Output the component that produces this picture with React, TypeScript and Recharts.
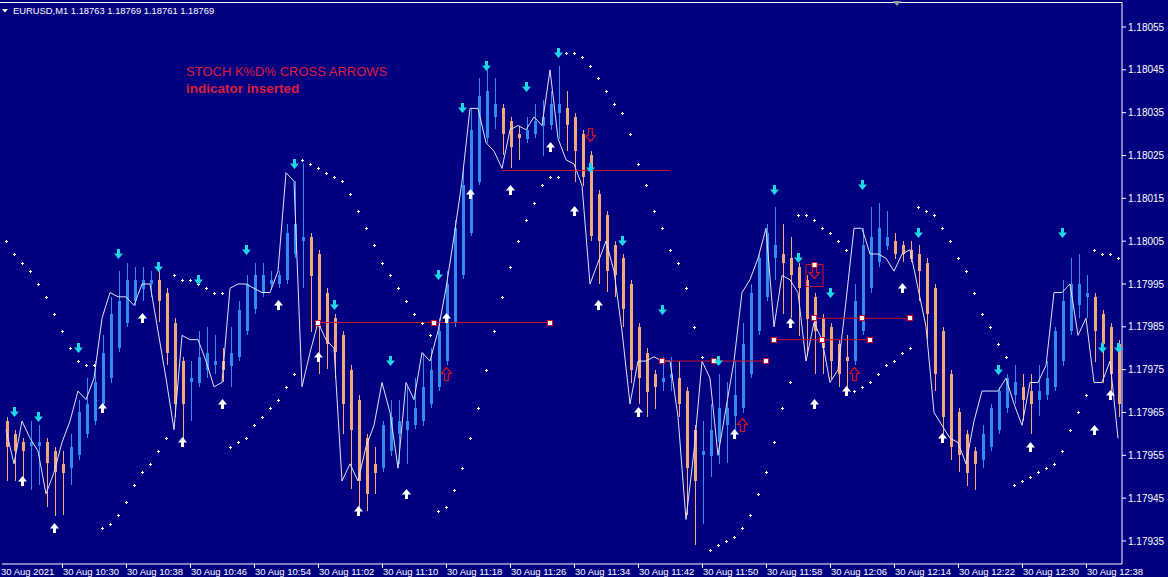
import { Bar, ComposedChart, Line, XAxis, YAxis } from "recharts";

const W = 1168;
const H = 577;
const X_AXIS_H = 13;
const Y_AXIS_W = 46;
const AXIS_Y = H - X_AXIS_H;
const BAND = 8;
const Y_MIN = 1.1792962;
const Y_MAX = 1.1806084;

const BG = "#000080";
const BLUE = "#308cf0";
const ORANGE = "#f2a878";
const CYAN = "#1ed6e6";
const RED = "#d0102a";
const TITLE_RED = "#dc1e3c";
const FONT = '"Liberation Sans", Arial, sans-serif';

// one-minute bars, 30 Aug 2021
const times = [
  "10:23", "10:24", "10:25", "10:26", "10:27", "10:28", "10:29", "10:30", "10:31", "10:32",
  "10:33", "10:34", "10:35", "10:36", "10:37", "10:38", "10:39", "10:40", "10:41", "10:42",
  "10:43", "10:44", "10:45", "10:46", "10:47", "10:48", "10:49", "10:50", "10:51", "10:52",
  "10:53", "10:54", "10:55", "10:56", "10:57", "10:58", "10:59", "11:00", "11:01", "11:02",
  "11:03", "11:04", "11:05", "11:06", "11:07", "11:08", "11:09", "11:10", "11:11", "11:12",
  "11:13", "11:14", "11:15", "11:16", "11:17", "11:18", "11:19", "11:20", "11:21", "11:22",
  "11:23", "11:24", "11:25", "11:26", "11:27", "11:28", "11:29", "11:30", "11:31", "11:32",
  "11:33", "11:34", "11:35", "11:36", "11:37", "11:38", "11:39", "11:40", "11:41", "11:42",
  "11:43", "11:44", "11:45", "11:46", "11:47", "11:48", "11:49", "11:50", "11:51", "11:52",
  "11:53", "11:54", "11:55", "11:56", "11:57", "11:58", "11:59", "12:00", "12:01", "12:02",
  "12:03", "12:04", "12:05", "12:06", "12:07", "12:08", "12:09", "12:10", "12:11", "12:12",
  "12:13", "12:14", "12:15", "12:16", "12:17", "12:18", "12:19", "12:20", "12:21", "12:22",
  "12:23", "12:24", "12:25", "12:26", "12:27", "12:28", "12:29", "12:30", "12:31", "12:32",
  "12:33", "12:34", "12:35", "12:36", "12:37", "12:38", "12:39", "12:40", "12:41", "12:42",
];

const opens = [
  1.17963, 1.1796, 1.17958, 1.17957, 1.17957, 1.17958, 1.17956, 1.17953, 1.17952, 1.17955,
  1.1796, 1.17963, 1.17967, 1.17973, 1.1798, 1.17986, 1.17991, 1.17994, 1.17995, 1.17996,
  1.17993, 1.17986, 1.17977, 1.17972, 1.17972, 1.17975, 1.17976, 1.17977, 1.17976, 1.17978,
  1.17984, 1.17989, 1.17993, 1.17995, 1.17995, 1.17996, 1.18002, 1.18005, 1.18006, 1.18002,
  1.17993, 1.17987, 1.17983, 1.17975, 1.17968, 1.17959, 1.17953, 1.17952, 1.17956, 1.1796,
  1.17961, 1.17962, 1.17963, 1.17967, 1.17971, 1.17977, 1.17986, 1.17997, 1.18007, 1.18019,
  1.18029, 1.18034, 1.18036, 1.18033, 1.1803, 1.18029, 1.1803, 1.18032, 1.18032, 1.18035,
  1.18036, 1.18034, 1.1803, 1.18025, 1.18016, 1.18011, 1.18004, 1.18001, 1.17995, 1.17985,
  1.17979, 1.17974, 1.17972, 1.17973, 1.17973, 1.1797, 1.17961, 1.17955, 1.17955, 1.17958,
  1.17962, 1.17964, 1.17966, 1.17974, 1.17984, 1.17992, 1.18001, 1.18002, 1.18001, 1.17999,
  1.17996, 1.17992, 1.17987, 1.17985, 1.17981, 1.17978, 1.17977, 1.17984, 1.17994, 1.18,
  1.18004, 1.18005, 1.18004, 1.18003, 1.18002, 1.18, 1.17994, 1.17984, 1.17974, 1.17965,
  1.1796, 1.17956, 1.17954, 1.17957, 1.17961, 1.17966, 1.17969, 1.17971, 1.1797, 1.17968,
  1.17969, 1.17971, 1.17977, 1.17984, 1.1799, 1.17992, 1.17992, 1.17988, 1.17985, 1.17981,
];

const highs = [
  1.17964, 1.17961, 1.17959, 1.17963, 1.17962, 1.17959, 1.17957, 1.17956, 1.1796, 1.17968,
  1.17973, 1.17977, 1.17983, 1.17992, 1.17998, 1.18, 1.17999, 1.17999, 1.17998, 1.17998,
  1.17994, 1.17987, 1.17978, 1.17977, 1.17984, 1.17985, 1.17983, 1.1798, 1.17985, 1.17991,
  1.17997, 1.18, 1.18, 1.17998, 1.17998, 1.18009, 1.18019, 1.18023, 1.18007, 1.18003,
  1.17994, 1.17988, 1.17984, 1.17976, 1.17969, 1.1796, 1.17957, 1.17963, 1.17968, 1.17968,
  1.17971, 1.17973, 1.17979, 1.1798, 1.17987, 1.17998, 1.1801, 1.18022, 1.18036, 1.18043,
  1.18045, 1.18043, 1.18037, 1.18034, 1.18032, 1.18034, 1.18037, 1.18038, 1.1804, 1.18046,
  1.1804, 1.18035, 1.18031, 1.18026, 1.18017, 1.18012, 1.18005, 1.18002, 1.17996, 1.17986,
  1.1798, 1.17975, 1.17978, 1.17978, 1.17977, 1.17971, 1.17962, 1.17963, 1.17967, 1.17974,
  1.17972, 1.17977, 1.17986, 1.17995, 1.18002, 1.18009, 1.18013, 1.18009, 1.18006, 1.18,
  1.17997, 1.17993, 1.17988, 1.17986, 1.17982, 1.17983, 1.17995, 1.18008, 1.18013, 1.18014,
  1.18012, 1.18007, 1.18005, 1.18005, 1.18004, 1.18001, 1.17995, 1.17985, 1.17975, 1.17966,
  1.17961, 1.17957, 1.17962, 1.17967, 1.17971, 1.17974, 1.17976, 1.17974, 1.17974, 1.17976,
  1.17977, 1.17985, 1.17996, 1.18001, 1.18002, 1.17997, 1.17993, 1.17989, 1.17986, 1.17982,
];

const lows = [
  1.17949, 1.17949, 1.17949, 1.17947, 1.17948, 1.17943, 1.17941, 1.17941, 1.17948, 1.17954,
  1.17959, 1.17962, 1.17966, 1.17972, 1.17979, 1.17985, 1.1799, 1.17991, 1.17992, 1.17986,
  1.17976, 1.17964, 1.17957, 1.17963, 1.17971, 1.17973, 1.17974, 1.17972, 1.17971, 1.17977,
  1.17983, 1.17988, 1.17992, 1.17994, 1.17994, 1.17995, 1.18001, 1.17994, 1.17984, 1.17974,
  1.17975, 1.17973, 1.1796, 1.17947, 1.17942, 1.17942, 1.17946, 1.17951, 1.17955, 1.17953,
  1.17953, 1.17961, 1.17962, 1.17966, 1.1797, 1.17976, 1.17985, 1.17996, 1.18006, 1.18018,
  1.18028, 1.18031, 1.18025, 1.18022, 1.18024, 1.18028, 1.18029, 1.18025, 1.18031, 1.18029,
  1.18026, 1.18019, 1.18018, 1.18005, 1.17995, 1.17993, 1.17992, 1.17985, 1.17972, 1.17967,
  1.17964, 1.17966, 1.1797, 1.1797, 1.17964, 1.17941, 1.17934, 1.17939, 1.1795, 1.17953,
  1.17953, 1.17959, 1.17965, 1.17973, 1.17983, 1.17991, 1.17996, 1.17988, 1.17987, 1.17983,
  1.17978, 1.17974, 1.17974, 1.17973, 1.17971, 1.1797, 1.17976, 1.17983, 1.17993, 1.17999,
  1.18003, 1.18001, 1.18, 1.18, 1.17991, 1.17982, 1.1797, 1.1796, 1.17954, 1.17951,
  1.17948, 1.17947, 1.17952, 1.17956, 1.1796, 1.17965, 1.17967, 1.17963, 1.1796, 1.17964,
  1.17968, 1.1797, 1.17976, 1.17983, 1.17987, 1.17987, 1.17977, 1.17972, 1.17969, 1.17964,
];

const closes = [
  1.17957, 1.17956, 1.17956, 1.17958, 1.17958, 1.17953, 1.17951, 1.17951, 1.17957, 1.17965,
  1.17967, 1.17972, 1.17979, 1.17988, 1.17991, 1.17996, 1.17996, 1.17996, 1.17996, 1.17991,
  1.17979, 1.17967, 1.17967, 1.17973, 1.17978, 1.17979, 1.17977, 1.17975, 1.17979, 1.17989,
  1.17995, 1.17997, 1.17997, 1.17996, 1.17997, 1.18007, 1.18009, 1.18006, 1.17997, 1.17985,
  1.17981, 1.17979, 1.17967, 1.17961, 1.17949, 1.17946, 1.17951, 1.17962, 1.17964, 1.17963,
  1.17963, 1.17966, 1.17971, 1.17975, 1.17984, 1.17995, 1.18008, 1.18018, 1.18031, 1.18039,
  1.1804, 1.18037, 1.1803, 1.18027, 1.18029, 1.18031, 1.18033, 1.18034, 1.18037, 1.18037,
  1.18032, 1.18026, 1.1802, 1.18006, 1.18005, 1.17998, 1.17997, 1.17989, 1.17975, 1.17973,
  1.1797, 1.17971, 1.17973, 1.17974, 1.17967, 1.17952, 1.17949, 1.17956, 1.17961, 1.17966,
  1.17966, 1.17969, 1.17981, 1.17993, 1.18001, 1.18007, 1.18004, 1.18, 1.17997, 1.17994,
  1.17987, 1.17984, 1.1798, 1.17977, 1.17974, 1.17977, 1.17991, 1.18004, 1.18006, 1.18008,
  1.18006, 1.18002, 1.18002, 1.18001, 1.17998, 1.17988, 1.17974, 1.17964, 1.17957, 1.17955,
  1.17951, 1.17953, 1.1796, 1.17966, 1.1797, 1.17973, 1.17972, 1.17968, 1.17967, 1.1797,
  1.17973, 1.17984, 1.17991, 1.17995, 1.17995, 1.17993, 1.17984, 1.17981, 1.17974, 1.17967,
];

// thin white line drawn over the candles
const traceLine = [
  1.17961, 1.17953, 1.17963, 1.17959, 1.17956, 1.17946, 1.17951, 1.17958, 1.17963, 1.1797,
  1.17968, 1.17973, 1.17987, 1.17993, 1.17992, 1.17992, 1.1799, 1.17995, 1.17995, 1.17984,
  1.17973, 1.17961, 1.17983, 1.17982, 1.17982, 1.17977, 1.17971, 1.17972, 1.17994, 1.17995,
  1.17995, 1.17994, 1.17993, 1.17993, 1.17998, 1.18021, 1.18019, 1.17971, 1.17979, 1.17986,
  1.17982, 1.1798, 1.17949, 1.17953, 1.17949, 1.17957, 1.17962, 1.17972, 1.17965, 1.17952,
  1.17972, 1.17968, 1.17979, 1.17977, 1.17984, 1.17994, 1.18006, 1.18019, 1.18036, 1.18036,
  1.18028, 1.18026, 1.18022, 1.18031, 1.18032, 1.18031, 1.18034, 1.18032, 1.18045, 1.18029,
  1.18024, 1.18023, 1.18018, 1.17995, 1.18, 1.18005, 1.17998, 1.17984, 1.17967, 1.17977,
  1.17977, 1.17978, 1.17977, 1.17977, 1.17964, 1.1794, 1.17956, 1.17977, 1.17973, 1.17955,
  1.17966, 1.17977, 1.17993, 1.17996, 1.18001, 1.18008, 1.17985, 1.17997, 1.17996, 1.17993,
  1.17977, 1.17986, 1.17982, 1.17972, 1.17975, 1.17991, 1.18008, 1.18008, 1.18002, 1.18002,
  1.18001, 1.17998, 1.18002, 1.18003, 1.17994, 1.17985, 1.17965, 1.17962, 1.17959, 1.17958,
  1.17953, 1.17963, 1.1797, 1.1797, 1.1797, 1.17973, 1.17967, 1.17962, 1.17972, 1.17972,
  1.17976, 1.17993, 1.17993, 1.17995, 1.17983, 1.17987, 1.17972, 1.17972, 1.17977, 1.17959,
];

// parabolic SAR dots
const sarValues = [
  1.18005, 1.18002, 1.18, 1.17998, 1.17995, 1.17992, 1.17988, 1.17984, 1.1798, 1.17977,
  1.17976, 1.17976, 1.17938, 1.17939, 1.17941, 1.17944, 1.17948, 1.17951, 1.17953, 1.17956,
  1.17959, 1.17997, 1.17996, 1.17996, 1.17995, 1.17994, 1.17993, 1.17993, 1.17957, 1.17958,
  1.17959, 1.17962, 1.17964, 1.17966, 1.17968, 1.17971, 1.17974, 1.18024, 1.18023, 1.18022,
  1.18021, 1.1802, 1.18019, 1.18016, 1.18012, 1.18008, 1.18004, 1.18, 1.17997, 1.17994,
  1.17991, 1.17988, 1.17986, 1.17983, 1.17942, 1.17943, 1.17947, 1.17952, 1.17959, 1.17966,
  1.17975, 1.17984, 1.17992, 1.17999, 1.18005, 1.1801, 1.18014, 1.18018, 1.1802, 1.1802,
  1.18049, 1.18049, 1.18048, 1.18046, 1.18043, 1.1804, 1.18037, 1.18035, 1.1803, 1.18023,
  1.18018, 1.18012, 1.18008, 1.18003, 1.18, 1.17994, 1.17985, 1.17978, 1.17933, 1.17934,
  1.17935, 1.17936, 1.17938, 1.17941, 1.17946, 1.17951, 1.17958, 1.17966, 1.17972, 1.18011,
  1.18011, 1.1801, 1.18008, 1.18007, 1.18005, 1.18003, 1.1797, 1.17971, 1.17972, 1.17974,
  1.17976, 1.17977, 1.17979, 1.1798, 1.18013, 1.18012, 1.18011, 1.18008, 1.18005, 1.18001,
  1.17998, 1.17993, 1.17988, 1.17985, 1.17981, 1.17978, 1.17948, 1.17949, 1.1795, 1.17951,
  1.17952, 1.17953, 1.17956, 1.17961, 1.17965, 1.17969, 1.18003, 1.18002, 1.18002, 1.18001,
];

// stochastic cross arrows (bar index, price)
const downIdx = [1, 4, 9, 14, 19, 24, 30, 36, 41, 48, 54, 57, 60, 65, 69, 73, 77, 82, 89, 96, 99, 103, 107, 114, 124, 132, 137, 139];
const downPrice = [
  1.17965, 1.17964, 1.1798, 1.18002, 1.17999, 1.17996, 1.18003, 1.18023, 1.1799, 1.17977,
  1.17997, 1.18036, 1.18046, 1.18041, 1.18049, 1.18022, 1.18005, 1.17989, 1.17977, 1.18017,
  1.18001, 1.17993, 1.18018, 1.18007, 1.17975, 1.18007, 1.1798, 1.1798,
];
const upIdx = [2, 6, 12, 17, 22, 27, 34, 39, 44, 50, 55, 58, 63, 68, 71, 74, 79, 91, 98, 101, 105, 112, 117, 128, 136, 138];
const upPrice = [
  1.17949, 1.17938, 1.17966, 1.17987, 1.17958, 1.17967, 1.1799, 1.17978, 1.17942, 1.17946,
  1.17987, 1.18016, 1.18017, 1.18027, 1.18012, 1.1799, 1.17965, 1.1796, 1.17986, 1.17967,
  1.1797, 1.17994, 1.17959, 1.17957, 1.17961, 1.17969,
];

// hollow red signal arrows
const redUpIdx = [55, 92, 106];
const redUpPrice = [1.17974, 1.17962, 1.17974];
const redDownIdx = [73, 101];
const redDownPrice = [1.1803, 1.17998];
const boxedSignalIdx = 101;

// red horizontal trend lines
const trendFrom = [39, 62, 82, 96, 101];
const trendTo = [68, 83, 95, 108, 113];
const trendPrice = [1.17986, 1.180215, 1.17977, 1.17982, 1.17987];
const trendHandles = [true, false, true, true, true];

const xTicks = [
  "10:23", "10:30", "10:38", "10:46", "10:54", "11:02", "11:10", "11:18", "11:26",
  "11:34", "11:42", "11:50", "11:58", "12:06", "12:14", "12:22", "12:30", "12:38",
];
const yTicks = [
  1.17935, 1.17945, 1.17955, 1.17965, 1.17975, 1.17985, 1.17995, 1.18005, 1.18015,
  1.18025, 1.18035, 1.18045, 1.18055,
];

const rows: any[] = times.map((time, i) => ({
  time,
  open: opens[i],
  high: highs[i],
  low: lows[i],
  close: closes[i],
  range: [lows[i], highs[i]],
  trace: traceLine[i],
  sar: sarValues[i],
  down: null,
  up: null,
  redUp: null,
  redDown: null,
}));
downIdx.forEach((idx, k) => (rows[idx].down = downPrice[k]));
upIdx.forEach((idx, k) => (rows[idx].up = upPrice[k]));
redUpIdx.forEach((idx, k) => (rows[idx].redUp = redUpPrice[k]));
redDownIdx.forEach((idx, k) => (rows[idx].redDown = redDownPrice[k]));
trendFrom.forEach((from, k) => {
  const to = trendTo[k];
  const mid = Math.floor((from + to) / 2);
  rows.forEach((row) => (row[`tr${k}`] = row[`tr${k}`] ?? null));
  rows[from][`tr${k}`] = trendPrice[k];
  rows[mid][`tr${k}`] = trendPrice[k];
  rows[to][`tr${k}`] = trendPrice[k];
});

const empty = (key: string) => <g key={key} />;
const missing = (props: any) =>
  props.value == null || props.cy == null || Number.isNaN(props.cy);

function renderCandle(props: any) {
  const { x, y, width, height, payload } = props;
  if (!payload) return <g />;
  const top = Math.min(y, y + height);
  const span = Math.abs(height);
  const { open, close, high, low } = payload;
  const k = span / (high - low);
  const cx = Math.round(x + width / 2);
  const yo = top + (high - open) * k;
  const yc = top + (high - close) * k;
  const color = close > open ? BLUE : ORANGE;
  const bodyTop = Math.round(Math.min(yo, yc));
  const bodyH = Math.max(1, Math.round(Math.abs(yo - yc)));
  return (
    <g>
      <rect x={cx} y={Math.round(top)} width={1} height={Math.max(1, Math.round(span))} fill={color} />
      <rect x={cx - 1} y={bodyTop} width={3} height={bodyH} fill={color} />
    </g>
  );
}

function renderSar(props: any) {
  const key = `sar-${props.index}`;
  if (missing(props)) return empty(key);
  const x = Math.round(props.cx);
  const y = Math.round(props.cy);
  return (
    <g key={key}>
      <rect x={x - 1} y={y} width={3} height={1} fill="#ffffff" />
      <rect x={x} y={y - 1} width={1} height={3} fill="#ffffff" />
    </g>
  );
}

function renderDown(props: any) {
  const key = `dn-${props.index}`;
  if (missing(props)) return empty(key);
  const X = Math.round(props.cx) + 0.5;
  const Y = Math.round(props.cy);
  return (
    <path
      key={key}
      d={`M${X - 1.5},${Y - 5} h3 v4.5 h3 l-4.5,5.5 l-4.5,-5.5 h3 z`}
      fill={CYAN}
    />
  );
}

function renderUp(props: any) {
  const key = `up-${props.index}`;
  if (missing(props)) return empty(key);
  const X = Math.round(props.cx) + 0.5;
  const Y = Math.round(props.cy);
  return (
    <path
      key={key}
      d={`M${X - 1.5},${Y + 5} h3 v-4.5 h3 l-4.5,-5.5 l-4.5,5.5 h3 z`}
      fill="#ffffff"
    />
  );
}

function renderRedUp(props: any) {
  const key = `rup-${props.index}`;
  if (missing(props)) return empty(key);
  const X = Math.round(props.cx) + 0.5;
  const Y = Math.round(props.cy) + 0.5;
  return (
    <path
      key={key}
      d={`M${X},${Y - 7} L${X + 5},${Y - 1} L${X + 2},${Y - 1} L${X + 2},${Y + 6} L${X - 2},${Y + 6} L${X - 2},${Y - 1} L${X - 5},${Y - 1} Z`}
      fill="none"
      stroke={RED}
      strokeWidth={1.2}
    />
  );
}

function renderRedDown(props: any) {
  const key = `rdn-${props.index}`;
  if (missing(props)) return empty(key);
  const X = Math.round(props.cx) + 0.5;
  const Y = Math.round(props.cy) + 0.5;
  return (
    <g key={key}>
      <path
        d={`M${X},${Y + 7} L${X + 5},${Y + 1} L${X + 2},${Y + 1} L${X + 2},${Y - 6} L${X - 2},${Y - 6} L${X - 2},${Y + 1} L${X - 5},${Y + 1} Z`}
        fill="none"
        stroke={RED}
        strokeWidth={1.2}
      />
      {props.index === boxedSignalIdx ? (
        <g>
          <rect x={X - 8.5} y={Y - 7} width={17} height={22} fill="none" stroke={RED} strokeWidth={1} />
          <rect x={X - 2.5} y={Y - 9} width={5} height={5} fill="#ffffff" stroke={RED} strokeWidth={1} />
        </g>
      ) : null}
    </g>
  );
}

function trendDot(k: number) {
  const from = trendFrom[k];
  const to = trendTo[k];
  const mid = (from + to) / 2;
  return (props: any) => {
    const key = `tr${k}-${props.index}`;
    if (missing(props) || !trendHandles[k]) return empty(key);
    let cx = props.cx;
    if (props.index === Math.floor(mid)) cx += (mid - Math.floor(mid)) * BAND;
    return (
      <rect
        key={key}
        x={Math.round(cx) - 2.5}
        y={Math.round(props.cy) - 2.5}
        width={5}
        height={5}
        fill="#ffffff"
        stroke={RED}
        strokeWidth={1}
      />
    );
  };
}

function XTick(props: any) {
  const { x, payload } = props;
  const isDate = payload.value === xTicks[0];
  const label = isDate ? "30 Aug 2021" : `30 Aug ${payload.value}`;
  return (
    <g>
      {!isDate ? (
        <rect x={Math.round(x)} y={AXIS_Y} width={1} height={4} fill="#ffffff" />
      ) : null}
      <text
        x={isDate ? 1 : x + 1}
        y={575}
        fill="#ffffff"
        fontSize={9.5}
        fontFamily={FONT}
        textAnchor="start"
      >
        {label}
      </text>
    </g>
  );
}

export default function App() {
  return (
    <div
      style={{
        position: "absolute",
        left: 0,
        top: 0,
        width: W,
        height: H,
        background: BG,
        overflow: "hidden",
      }}
    >
      <ComposedChart
        width={W}
        height={H}
        data={rows}
        margin={{ top: 2, right: 0, bottom: 0, left: 2 }}
      >
        <XAxis
          dataKey="time"
          ticks={xTicks}
          interval={0}
          height={X_AXIS_H}
          tickLine={false}
          axisLine={{ stroke: "#ffffff" }}
          tick={(p: any) => <XTick {...p} />}
        />
        <YAxis
          orientation="right"
          type="number"
          domain={[Y_MIN, Y_MAX]}
          allowDataOverflow
          ticks={yTicks}
          interval={0}
          width={Y_AXIS_W}
          tickSize={4}
          tickLine={{ stroke: "#ffffff" }}
          axisLine={{ stroke: "#ffffff" }}
          tick={{ fill: "#ffffff", fontSize: 10, fontFamily: FONT }}
          tickFormatter={(v: number) => v.toFixed(5)}
        />
        <Bar dataKey="range" barSize={3} shape={renderCandle} isAnimationActive={false} />
        <Line
          dataKey="trace"
          type="linear"
          stroke="#e4e4f4"
          strokeWidth={1}
          dot={false}
          activeDot={false}
          isAnimationActive={false}
        />
        {trendFrom.map((_, k) => (
          <Line
            key={`tr${k}`}
            dataKey={`tr${k}`}
            type="linear"
            connectNulls
            stroke={RED}
            strokeWidth={1}
            dot={trendDot(k)}
            activeDot={false}
            isAnimationActive={false}
          />
        ))}
        <Line dataKey="sar" stroke="none" dot={renderSar} activeDot={false} isAnimationActive={false} />
        <Line dataKey="down" stroke="none" dot={renderDown} activeDot={false} isAnimationActive={false} />
        <Line dataKey="up" stroke="none" dot={renderUp} activeDot={false} isAnimationActive={false} />
        <Line dataKey="redUp" stroke="none" dot={renderRedUp} activeDot={false} isAnimationActive={false} />
        <Line dataKey="redDown" stroke="none" dot={renderRedDown} activeDot={false} isAnimationActive={false} />
      </ComposedChart>
      <svg
        width={W}
        height={H}
        style={{ position: "absolute", left: 0, top: 0, pointerEvents: "none" }}
      >
        <rect x={0} y={2} width={1122} height={1} fill="#ffffff" />
        <polygon points="893,1 901,1 897,6" fill="#9a9a9a" />
        <polygon points="2,9 8,9 5,12.5" fill="#ffffff" />
        <text x={13} y={14} fill="#ffffff" fontSize={9.4} fontFamily={FONT}>
          EURUSD,M1  1.18763 1.18769 1.18761 1.18769
        </text>
        <text x={186} y={76} fill={TITLE_RED} fontSize={13} fontFamily={FONT}>
          STOCH K%D% CROSS ARROWS
        </text>
        <text x={186} y={93} fill={TITLE_RED} fontSize={13.5} fontWeight="bold" fontFamily={FONT}>
          indicator inserted
        </text>
      </svg>
    </div>
  );
}
